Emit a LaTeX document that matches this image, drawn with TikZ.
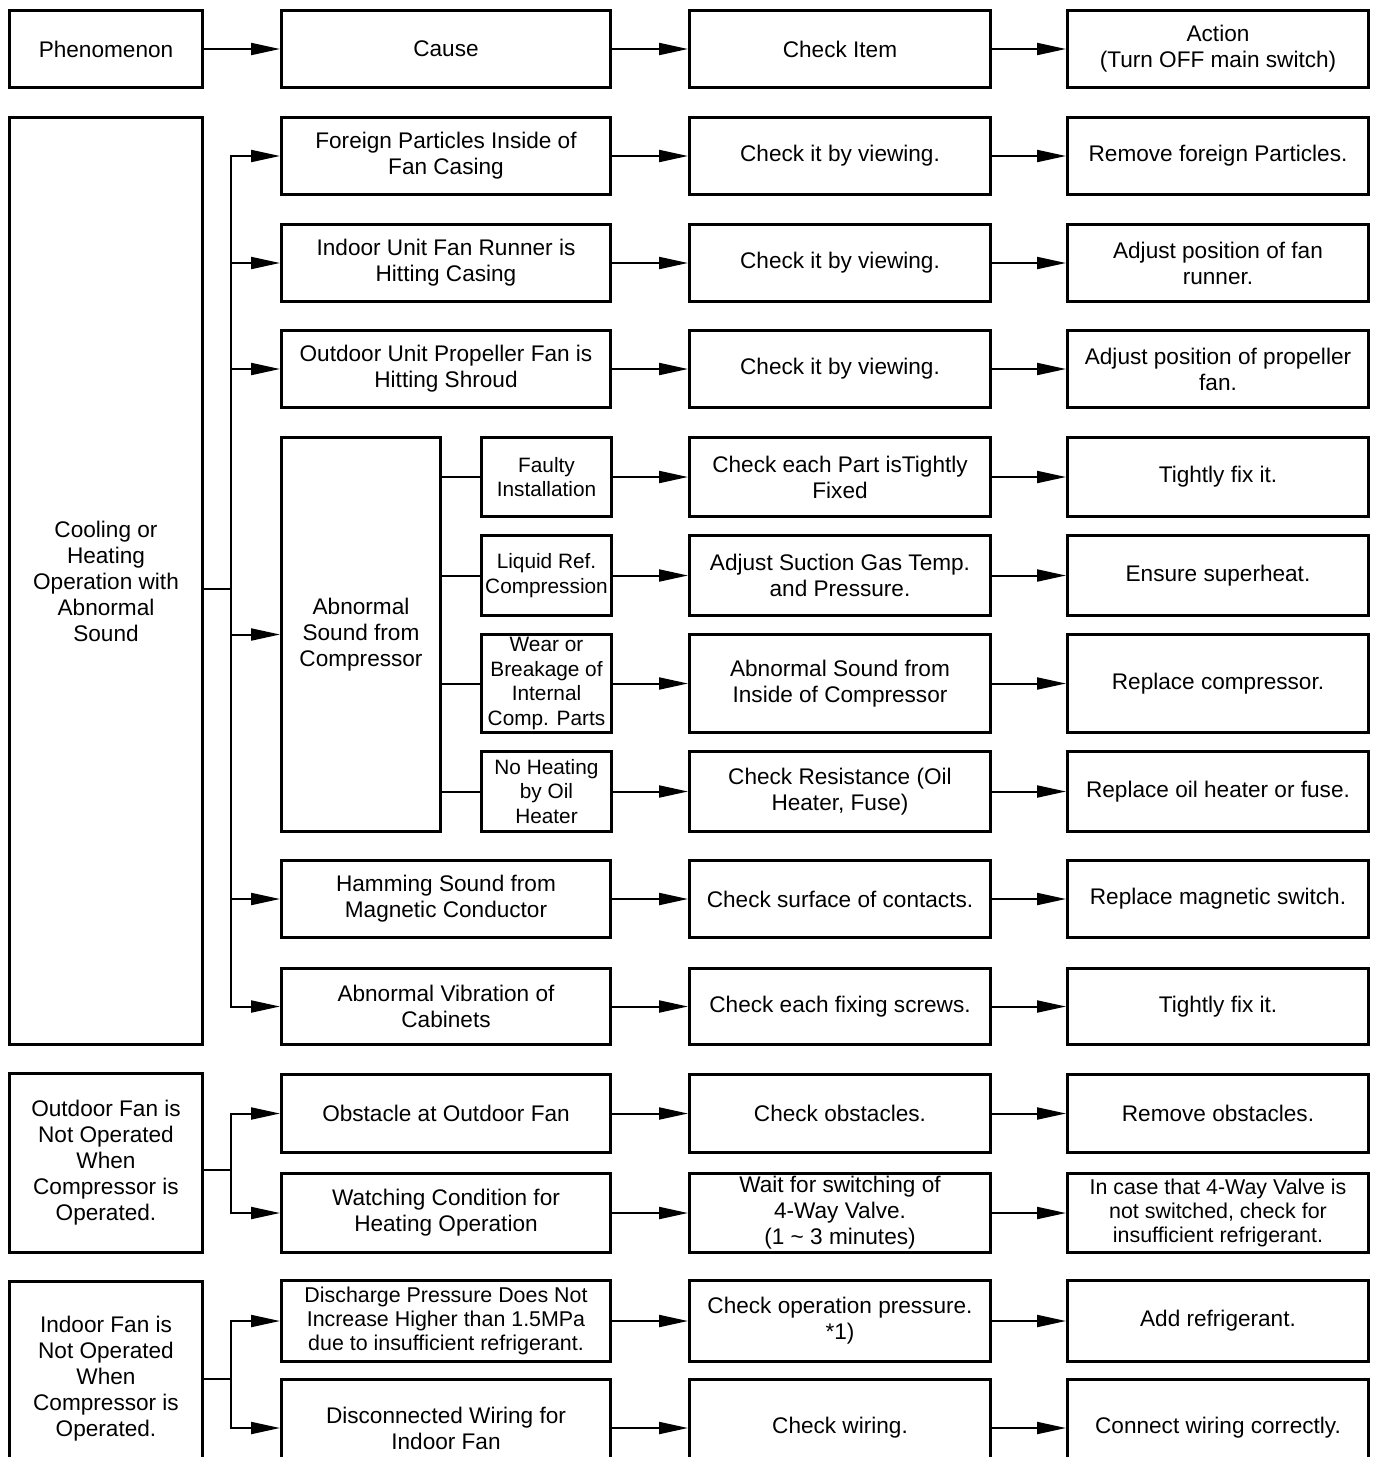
\documentclass[tikz,border=0pt]{standalone}
\usepackage{fontspec}
\setmainfont{Liberation Sans}
\usetikzlibrary{arrows.meta}

\begin{document}
\begin{tikzpicture}[x=0.5pt,y=-0.5pt,
  box/.style={draw,line width=1.5pt,align=center,inner sep=1pt,minimum height=38.5pt,font=\fontsize{11.3}{13}\selectfont},
  pcol/.style={box,minimum width=96.5pt},
  ccol/.style={box,minimum width=164.5pt},
  kcol/.style={box,minimum width=150.5pt},
  acol/.style={box,minimum width=150.5pt},
  sub/.style={box,minimum width=65pt,inner sep=0.5pt,font=\fontsize{10.4}{12.3}\selectfont},
  small/.style={font=\fontsize{10.7}{12.2}\selectfont},
  link/.style={line width=1pt},
  arr/.style={link,-{Triangle[length=14.5pt,width=6pt]}}]
\useasboundingbox (0,0) rectangle (1378,1457);

% header
\node[pcol] (phen) at (106,49) {Phenomenon};
\node[ccol] (cause) at (446,49) {Cause};
\node[kcol] (item) at (840,49) {Check Item};
\node[acol] (act) at (1218,49) {Action\\(Turn OFF main switch)};
\draw[arr] (phen) -- (cause);
\draw[arr] (cause) -- (item);
\draw[arr] (item) -- (act);

% abnormal sound
\node[pcol,minimum height=463.5pt] (cool) at (106,581) {Cooling or\\Heating\\Operation with\\Abnormal\\Sound};
\node[ccol] (c1) at (446,156) {Foreign Particles Inside of\\Fan Casing};
\node[kcol] (k1) at (840,156) {Check it by viewing.};
\node[acol] (a1) at (1218,156) {Remove foreign Particles.};
\node[ccol] (c2) at (446,263) {Indoor Unit Fan Runner is\\Hitting Casing};
\node[kcol] (k2) at (840,263) {Check it by viewing.};
\node[acol] (a2) at (1218,263) {Adjust position of fan\\runner.};
\node[ccol] (c3) at (446,369) {Outdoor Unit Propeller Fan is\\Hitting Shroud};
\node[kcol] (k3) at (840,369) {Check it by viewing.};
\node[acol] (a3) at (1218,369) {Adjust position of propeller\\fan.};

\node[box,minimum width=79.5pt,minimum height=197pt] (comp) at (361,634.5) {Abnormal\\Sound from\\Compressor};
\node[sub,minimum height=39.5pt] (c4) at (546.5,477) {Faulty\\Installation};
\node[kcol,minimum height=39.5pt] (k4) at (840,477) {Check each Part isTightly\\Fixed};
\node[acol,minimum height=39.5pt] (a4) at (1218,477) {Tightly fix it.};
\node[sub,minimum height=40pt] (c5) at (546.5,575.5) {Liquid Ref.\\Compression};
\node[kcol,minimum height=40pt] (k5) at (840,575.5) {Adjust Suction Gas Temp.\\and Pressure.};
\node[acol,minimum height=40pt] (a5) at (1218,575.5) {Ensure superheat.};
\node[sub,minimum height=49pt] (c6) at (546.5,683.5) {Wear or\\Breakage of\\Internal\\Comp. Parts};
\node[kcol,minimum height=49pt] (k6) at (840,683.5) {Abnormal Sound from\\Inside of Compressor};
\node[acol,minimum height=49pt] (a6) at (1218,683.5) {Replace compressor.};
\node[sub,minimum height=40pt] (c7) at (546.5,791.5) {No Heating\\by Oil\\Heater};
\node[kcol,minimum height=40pt] (k7) at (840,791.5) {Check Resistance (Oil\\Heater, Fuse)};
\node[acol,minimum height=40pt] (a7) at (1218,791.5) {Replace oil heater or fuse.};

\node[ccol] (c8) at (446,899) {Hamming Sound from\\Magnetic Conductor};
\node[kcol] (k8) at (840,899) {Check surface of contacts.};
\node[acol] (a8) at (1218,899) {Replace magnetic switch.};
\node[ccol,minimum height=38pt] (c9) at (446,1006.5) {Abnormal Vibration of\\Cabinets};
\node[kcol,minimum height=38pt] (k9) at (840,1006.5) {Check each fixing screws.};
\node[acol,minimum height=38pt] (a9) at (1218,1006.5) {Tightly fix it.};

% outdoor fan
\node[pcol,minimum height=89.5pt] (out) at (106,1163) {Outdoor Fan is\\Not Operated\\When\\Compressor is\\Operated.};
\node[ccol,minimum height=39pt] (c10) at (446,1113.5) {Obstacle at Outdoor Fan};
\node[kcol,minimum height=39pt] (k10) at (840,1113.5) {Check obstacles.};
\node[acol,minimum height=39pt] (a10) at (1218,1113.5) {Remove obstacles.};
\node[ccol,minimum height=39.5pt] (c11) at (446,1213) {Watching Condition for\\Heating Operation};
\node[kcol,minimum height=39.5pt] (k11) at (840,1213) {Wait for switching of\\4-Way Valve.\\(1 {\textasciitilde} 3 minutes)};
\node[acol,minimum height=39.5pt,small] (a11) at (1218,1213) {In case that 4-Way Valve is\\not switched, check for\\insufficient refrigerant.};

% indoor fan
\node[pcol,minimum height=97.5pt] (ind) at (106,1379) {Indoor Fan is\\Not Operated\\When\\Compressor is\\Operated.};
\node[ccol,minimum height=40.5pt,small] (c12) at (446,1321) {Discharge Pressure Does Not\\Increase Higher than 1.5MPa\\due to insufficient refrigerant.};
\node[kcol,minimum height=40.5pt] (k12) at (840,1321) {Check operation pressure.\\*1)};
\node[acol,minimum height=40.5pt] (a12) at (1218,1321) {Add refrigerant.};
\node[ccol,minimum height=48.5pt] (c13) at (446,1428) {Disconnected Wiring for\\Indoor Fan};
\node[kcol,minimum height=48.5pt] (k13) at (840,1428) {Check wiring.};
\node[acol,minimum height=48.5pt] (a13) at (1218,1428) {Connect wiring correctly.};

% connectors
\coordinate (b1) at (231,589);
\coordinate (b2) at (231,1170);
\coordinate (b3) at (231,1379);
\draw[link] (cool.east |- b1) -- (b1);
\draw[link] (out.east |- b2) -- (b2);
\draw[link] (ind.east |- b3) -- (b3);
\foreach \n in {c1,c2,c3,comp,c8,c9}
  \draw[arr] (b1) |- (\n.west);
\foreach \n in {c10,c11}
  \draw[arr] (b2) |- (\n.west);
\foreach \n in {c12,c13}
  \draw[arr] (b3) |- (\n.west);
\foreach \n in {c4,c5,c6,c7}
  \draw[link] (comp.east |- \n) -- (\n.west);
\foreach \i in {1,...,13}{
  \draw[arr] (c\i) -- (k\i);
  \draw[arr] (k\i) -- (a\i);
}
\end{tikzpicture}
\end{document}
